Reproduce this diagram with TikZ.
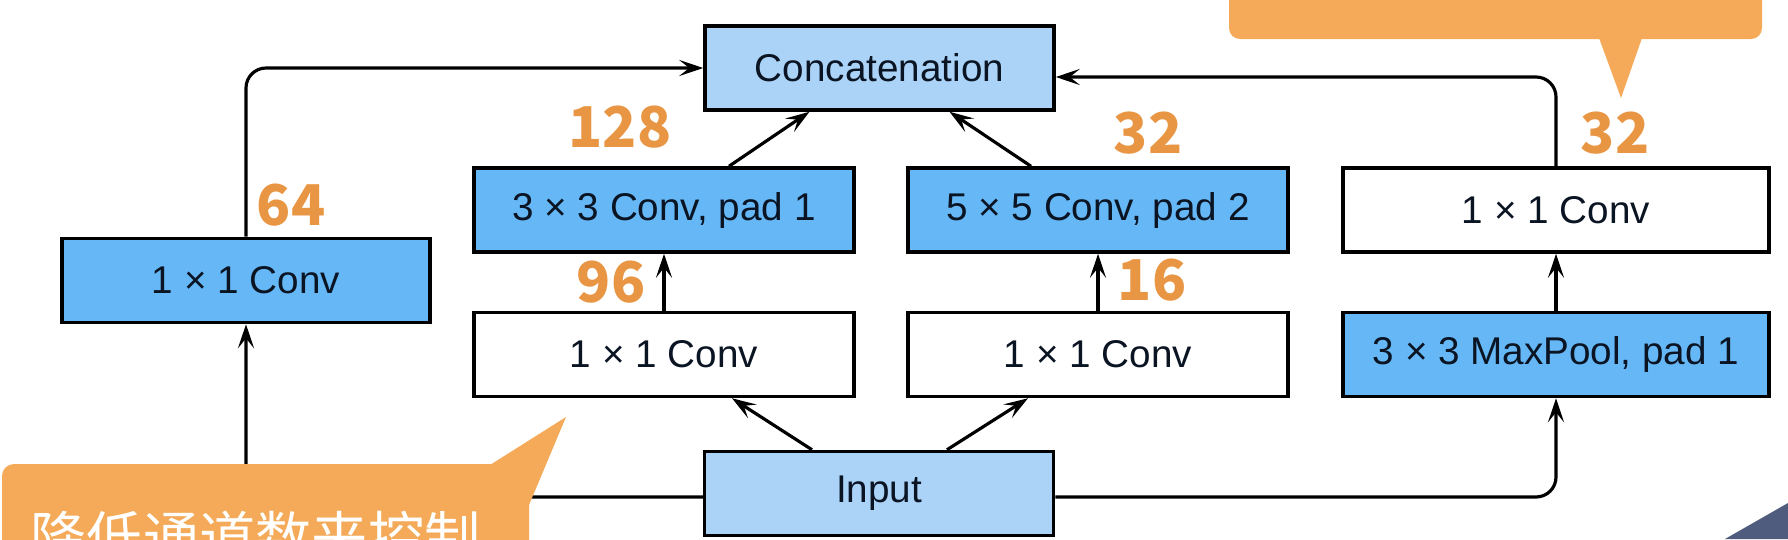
\documentclass[tikz,border=0pt]{standalone}
\usepackage{fontspec}
\setmainfont{Liberation Sans}
\newfontfamily\cjkfont{Noto Sans CJK SC}
\usepackage{tikz}
\usetikzlibrary{arrows.meta,positioning,calc}
\definecolor{incblue}{RGB}{102,183,245}
\definecolor{inclight}{RGB}{171,211,247}
\definecolor{incorange}{RGB}{233,150,68}
\definecolor{tiporange}{RGB}{244,170,88}
\definecolor{slidedark}{RGB}{80,92,125}
\definecolor{boxtext}{RGB}{10,20,35}

\begin{document}
\begin{tikzpicture}[x=0.1mm, y=-0.1mm,
  box/.style={rectangle, draw=black, line width=1pt, minimum height=8.4mm,
              inner sep=0pt, font=\fontsize{11pt}{13pt}\selectfont, text=boxtext},
  convbox/.style={box, fill=incblue},
  plainbox/.style={box, fill=white},
  iobox/.style={box, fill=inclight, minimum width=34.9mm},
  arrow/.style={-{Stealth[length=2.4mm,width=1.6mm,inset=1mm]}, line width=0.9pt},
  num/.style={font=\cjkfont\bfseries\fontsize{16pt}{18pt}\selectfont, text=incorange}
]
\useasboundingbox (0,0) rectangle (1788,539);
\clip (0,0) rectangle (1788,539);

% Concatenation
\node[iobox] (concat) at (879.5,68) {Concatenation};

% path 2: 1x1 then 3x3
\node[convbox, minimum width=38mm] (conv3) at (664,210) {3 × 3 Conv, pad 1};
\node[plainbox, minimum width=38mm, below=5.7mm of conv3] (red3) {1 × 1 Conv};

% path 3: 1x1 then 5x5
\node[convbox, minimum width=38mm] (conv5) at (1098,210) {5 × 5 Conv, pad 2};
\node[plainbox, minimum width=38mm, below=5.7mm of conv5] (red5) {1 × 1 Conv};

% path 4: maxpool then 1x1
\node[plainbox, minimum width=42.6mm] (proj) at (1556,210) {1 × 1 Conv};
\node[convbox, minimum width=42.6mm, below=5.7mm of proj] (pool) {3 × 3 MaxPool, pad 1};

% path 1: 1x1
\node[convbox, minimum width=36.8mm] (conv1) at (246,280.5) {1 × 1 Conv};

% Input
\node[iobox] (input) at (879,493.5) {Input};

% into Concatenation
\draw[arrow, rounded corners=2mm] (conv1.north) |- (concat.west);
\draw[arrow] ([xshift=6.5mm]conv3.north) -- ([xshift=-7mm]concat.south);
\draw[arrow] ([xshift=-6.7mm]conv5.north) -- ([xshift=7mm]concat.south);
\draw[arrow, rounded corners=2mm] (proj.north) |- ([yshift=-0.9mm]concat.east);

% inside the paths
\draw[arrow] (red3.north) -- (conv3.south);
\draw[arrow] (red5.north) -- (conv5.south);
\draw[arrow] (pool.north) -- (proj.south);

% from Input
\draw[arrow] ([xshift=-6.7mm]input.north) -- ([xshift=6.8mm]red3.south);
\draw[arrow] ([xshift=6.8mm]input.north) -- ([xshift=-7mm]red5.south);
\draw[arrow, rounded corners=2mm] ([yshift=-0.35mm]input.west) -| (conv1.south);
\draw[arrow, rounded corners=2mm] ([yshift=-0.35mm]input.east) -| (pool.south);

% channel numbers
\node[num] (n64) at (291,205) {64};
\node[num] (n128) at (620,127) {128};
\node[num] (n96) at (611,282) {96};
\node[num] (n32a) at (1148,133) {32};
\node[num] (n16) at (1152,280) {16};
\node[num] (n32b) at (1615,133) {32};

% callout, top right
\fill[tiporange, rounded corners=1.1mm] (1229,-30) -- (1229,39) -- (1762,39) -- (1762,-30) -- cycle;
\fill[tiporange] (1599,38) -- (1621,98) -- (1642,38) -- cycle;

% callout, bottom left
\fill[tiporange, rounded corners=1.2mm] (2,580) -- (2,464) -- (529,464) -- (529,580) -- cycle;
\fill[tiporange] (490,465) -- (566,417) -- (529,505) -- cycle;
\node[anchor=base west, inner sep=0pt, text=white,
      font=\cjkfont\fontsize{16pt}{18pt}\selectfont] (tip) at (30,558) {降低通道数来控制};

% slide corner
\fill[slidedark] (1725,539) -- (1788,503) -- (1788,539) -- cycle;

\end{tikzpicture}
\end{document}
